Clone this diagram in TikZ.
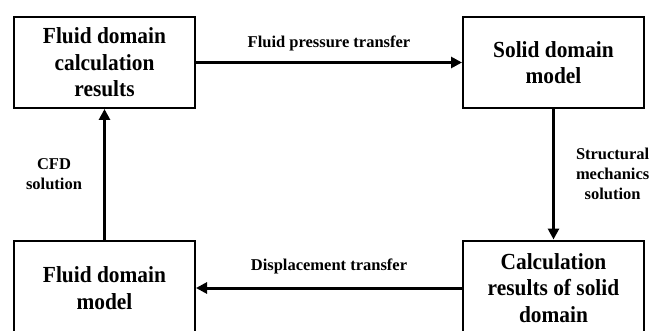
\documentclass[tikz,border=0pt]{standalone}
\usepackage{fontspec}
\setmainfont{Liberation Serif}
\newfontfamily\boxfont[FakeStretch=0.93]{Liberation Serif}
\usepackage{tikz}
\usetikzlibrary{arrows.meta}

\begin{document}
\begin{tikzpicture}[x=1pt,y=1pt,
  box/.style={draw,line width=2pt,minimum width=181pt,align=center,inner sep=0pt,
    font=\boxfont\fontsize{23}{26.5}\selectfont\bfseries},
  flow/.style={line width=3pt,-{Triangle[length=11pt,width=11pt]}},
  lbl/.style={align=center,inner sep=0pt,font=\fontsize{16.5}{20}\selectfont\bfseries}]
\clip (0,0) rectangle (651,330);
\useasboundingbox (0,0) rectangle (651,330);
\node[box,minimum height=91pt] (fdres) at (104.5,267.5) {Fluid domain\\calculation\\results};
\node[box,minimum height=91pt] (sdmod) at (553.5,267.5) {Solid domain\\model};
\node[box,minimum height=95pt] (fdmod) at (104.5,42) {Fluid domain\\model};
\node[box,minimum height=95pt] (crsd) at (553.5,42) {Calculation\\results of solid\\domain};
\draw[flow] (fdres) -- node[lbl,above=10pt] (fpt) {Fluid pressure transfer} (sdmod);
\draw[flow] (sdmod) -- node[lbl,right=21pt] (sms) {Structural\\mechanics\\solution} (crsd);
\draw[flow] (crsd) -- node[lbl,above=12pt] (dt) {Displacement transfer} (fdmod);
\draw[flow] (fdmod) -- node[lbl,left=21pt] (cfd) {CFD\\solution} (fdres);
\end{tikzpicture}
\end{document}
